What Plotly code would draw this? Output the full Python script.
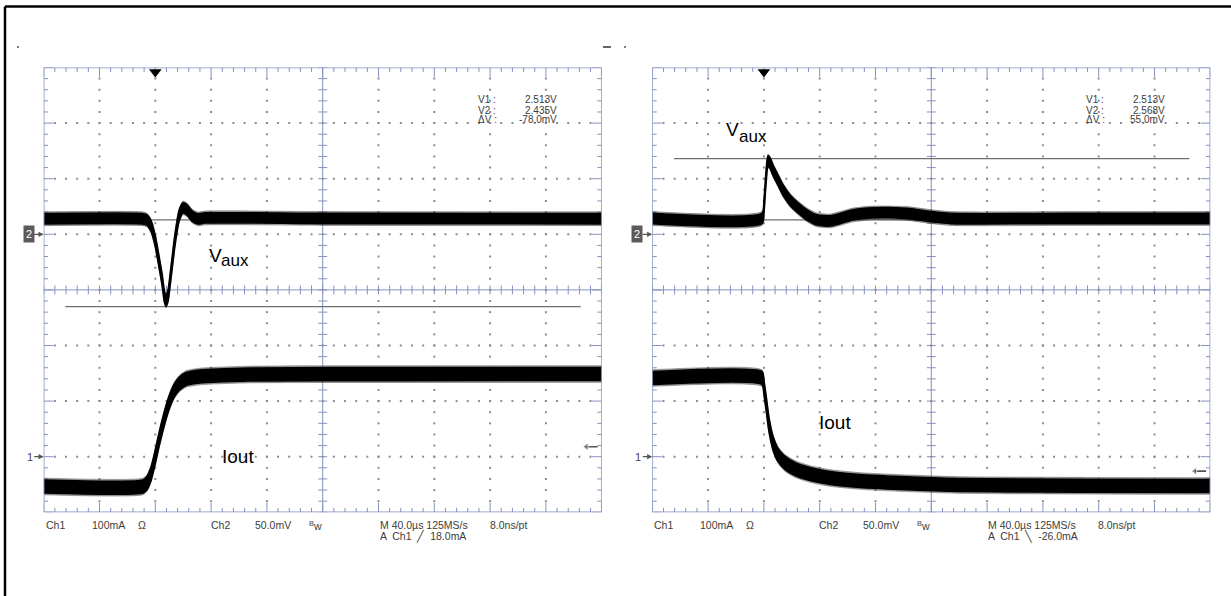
import plotly.graph_objects as go

W, H = 1231, 596

# ---------------- data (time in µs, Ch2 in V, Ch1 in mA) ----------------
# Left capture: load step up
L_vaux_t = [-80, -9.5, -5.9, -3.1, -0.2, 2.7, 4.9, 6.6, 7.7, 9.1, 11.3, 14.1, 17.0, 19.9, 22.8, 26.3, 30.6, 35.6, 120, 320]
L_vaux_v = [2.514, 2.514, 2.5128, 2.5075, 2.4948, 2.4751, 2.4589, 2.4436, 2.4400, 2.4445, 2.4660, 2.4949,
            2.5165, 2.5237, 2.5219, 2.5165, 2.5138, 2.5147, 2.5142, 2.514]
L_iout_t = [-80, -8.8, -5.95, -3.1, -0.2, 2.65, 6.2, 9.8, 13.4, 17.0, 22.0, 32.0, 67.9, 180, 320]
L_iout_i = [-53.6, -53.6, -47.3, -31.1, -2.3, 30.0, 66.0, 96.6, 118.2, 130.8, 139.7, 144.2, 147.8, 148.5, 148.7]

# Right capture: load step down
R_vaux_t = [-80, -1.4, 0.1, 1.5, 2.9, 4.4, 6.5, 10.1, 13.7, 18.7, 23.7, 30.9, 38.1, 47.4, 54.6, 63.9,
            78.3, 102.6, 119.1, 133.5, 220, 320]
R_vaux_v = [2.5142, 2.5142, 2.5263, 2.5506, 2.5659, 2.5641, 2.5578, 2.5488, 2.5398, 2.5308, 2.5246, 2.5174,
            2.5129, 2.5120, 2.5142, 2.5174, 2.5192, 2.5187, 2.5160, 2.5142, 2.5142, 2.5142]
R_iout_t = [-80, -1.4, 0.07, 1.5, 3.7, 6.5, 10.1, 15.1, 22.3, 33.1, 47.4, 68.9, 97.6, 140.6, 230, 320]
R_iout_i = [141.5, 141.5, 123.6, 98.4, 57.0, 24.6, 3.1, -11.2, -22.1, -31.1, -38.3, -43.7, -47.3, -50.9, -52.2, -52.7]

# noise band half-widths
VAUX_NOISE_CORE, VAUX_NOISE_FUZZ = 0.0045, 0.0062   # V
IOUT_NOISE_CORE, IOUT_NOISE_FUZZ = 11.5, 15.0        # mA

# cursors (V) and trigger levels (mA)
L_cursors = [2.513, 2.435]
R_cursors = [2.513, 2.568]
L_trig_level = 18.0
R_trig_level = -26.0
CURSOR_SPAN = [-64.5, 305]

# readouts
L_readout = [("V1 :", "2.513V"), ("V2 :", "2.435V"), ("ΔV :", "-78.0mV")]
R_readout = [("V1 :", "2.513V"), ("V2 :", "2.568V"), ("ΔV :", "55.0mV")]

# status line texts
status_row1 = ["Ch1", "100mA", "Ω", "Ch2", "50.0mV", "<sup>B</sup>w", "M 40.0µs 125MS/s", "8.0ns/pt"]
L_status_row2 = "A  Ch1  ╱  18.0mA"
R_status_row2 = "A  Ch1  ╲  -26.0mA"

# scope settings
TIME_DIV = 40.0      # µs/div
TRIG_DIV = 2.0       # trigger position, divisions from left
CH1_SCALE, CH1_POS = 100.0, -3.0     # mA/div, ground marker position (div)
CH2_SCALE, CH2_OFF, CH2_POS = 0.05, 2.5, 1.0

T0 = -TRIG_DIV * TIME_DIV
T1 = T0 + 10 * TIME_DIV
TC = T0 + 5 * TIME_DIV
ch1_range = [-(4 + CH1_POS) * CH1_SCALE, (4 - CH1_POS) * CH1_SCALE]
ch2_range = [CH2_OFF - (4 + CH2_POS) * CH2_SCALE, CH2_OFF + (4 - CH2_POS) * CH2_SCALE]

# ---------------- layout geometry (pixels) ----------------
GRAT_TOP, GRAT_BOT = 67.5, 512.3
PANELS = [(43.7, 601.7), (652.3, 1210.3)]
FONT = "Liberation Sans, Arial, sans-serif"
GRAT_COL = "#8591c0"
DOT_COL = "#8a8a98"
TXT_COL = "#3c3c3c"


def px(x):
    return x / W


def py(y):
    return 1 - y / H


fig = go.Figure()
shapes = []
annotations = []


def graticule(xa, ya):
    lx, ly = [], []
    for k in range(51):
        t = T0 + k * 0.2 * TIME_DIV
        L = 0.17 if k % 5 == 0 else 0.08
        lx += [t, t, None, t, t, None, t, t, None]
        ly += [4, 4 - L, None, -4, -4 + L, None, -0.08, 0.08, None]
    for k in range(41):
        y = -4 + k * 0.2
        L = (0.17 if k % 5 == 0 else 0.08) * TIME_DIV
        s = 0.08 * TIME_DIV
        lx += [T0, T0 + L, None, T1, T1 - L, None, TC - s, TC + s, None]
        ly += [y, y, None, y, y, None, y, y, None]
    lx += [T0, T1, None, TC, TC]
    ly += [0, 0, None, -4, 4]
    fig.add_trace(go.Scatter(x=lx, y=ly, mode="lines", line=dict(color=GRAT_COL, width=1),
                             xaxis=xa, yaxis=ya, hoverinfo="skip", showlegend=False))
    dx, dy = [], []
    for r in [-3, -2, -1, 1, 2, 3]:
        for k in range(1, 50):
            dx.append(T0 + k * 0.2 * TIME_DIV)
            dy.append(r)
    for c in [1, 2, 3, 4, 6, 7, 8, 9]:
        for k in range(1, 40):
            dx.append(T0 + c * TIME_DIV)
            dy.append(-4 + k * 0.2)
    fig.add_trace(go.Scatter(x=dx, y=dy, mode="markers",
                             marker=dict(color=DOT_COL, size=2, symbol="square", line=dict(width=0)),
                             xaxis=xa, yaxis=ya, hoverinfo="skip", showlegend=False))
    # trigger position marker
    fig.add_trace(go.Scatter(x=[0], y=[3.92], mode="markers", cliponaxis=False,
                             marker=dict(symbol="triangle-down", size=11, color="black"),
                             xaxis=xa, yaxis=ya, hoverinfo="skip", showlegend=False))
    shapes.append(dict(type="rect", xref=xa, yref=ya, x0=T0, x1=T1, y0=-4, y1=4,
                       line=dict(color=GRAT_COL, width=1.5), layer="above"))


def band_pair(t, v, a, fillcolor, lw, lcol, xa, ya):
    lo = [vv - a for vv in v]
    hi = [vv + a for vv in v]
    fig.add_trace(go.Scatter(x=t, y=lo, mode="lines",
                             line=dict(color=lcol, width=lw, shape="spline", smoothing=0.6),
                             xaxis=xa, yaxis=ya, hoverinfo="skip", showlegend=False))
    fig.add_trace(go.Scatter(x=t, y=hi, mode="lines", fill="tonexty", fillcolor=fillcolor,
                             line=dict(color=lcol, width=lw, shape="spline", smoothing=0.6),
                             xaxis=xa, yaxis=ya, hoverinfo="skip", showlegend=False))


def signal(t, v, core, fuzz, xa, ya):
    band_pair(t, v, fuzz, "rgba(40,40,40,0.45)", 0.8, "rgba(60,60,60,0.5)", xa, ya)
    band_pair(t, v, core, "black", 1.8, "black", xa, ya)


def cursors(vals, xa, ya):
    for v in vals:
        fig.add_trace(go.Scatter(x=CURSOR_SPAN, y=[v, v], mode="lines",
                                 line=dict(color="#6f6f6f", width=1.2),
                                 xaxis=xa, yaxis=ya, hoverinfo="skip", showlegend=False))


def trig_arrow(level, xa, ya):
    fig.add_trace(go.Scatter(x=[T1 - 3, T1 - 11], y=[level, level], mode="lines+markers", cliponaxis=False,
                             line=dict(color="#555", width=1.6),
                             marker=dict(symbol=["line-ns", "triangle-left"], size=[0, 7], color="#555"),
                             xaxis=xa, yaxis=ya, hoverinfo="skip", showlegend=False))


panels = [
    dict(x="x", yg="y", y2="y2", y1="y3", vt=L_vaux_t, vv=L_vaux_v, it=L_iout_t, ii=L_iout_i,
         cur=L_cursors, trig=L_trig_level, ro=L_readout, row2=L_status_row2,
         v_lbl=(207, 255), aux_lbl=(219, 261), iout_lbl=(220, 456)),
    dict(x="x2", yg="y4", y2="y5", y1="y6", vt=R_vaux_t, vv=R_vaux_v, it=R_iout_t, ii=R_iout_i,
         cur=R_cursors, trig=R_trig_level, ro=R_readout, row2=R_status_row2,
         v_lbl=(724, 130), aux_lbl=(737, 136), iout_lbl=(817, 423)),
]

for p, (xl, xr) in zip(panels, PANELS):
    graticule(p["x"], p["yg"])
    cursors(p["cur"], p["x"], p["y2"])
    signal(p["vt"], p["vv"], VAUX_NOISE_CORE, VAUX_NOISE_FUZZ, p["x"], p["y2"])
    signal(p["it"], p["ii"], IOUT_NOISE_CORE, IOUT_NOISE_FUZZ, p["x"], p["y1"])
    trig_arrow(p["trig"], p["x"], p["y1"])

    # channel ground markers
    annotations.append(dict(x=T0, y=CH2_OFF, xref=p["x"], yref=p["y2"], text="2", showarrow=True,
                            ax=-15, ay=0, arrowhead=2, arrowsize=0.8, arrowwidth=1.3, arrowcolor="#555",
                            bgcolor="#5b5b5b", borderpad=2, font=dict(color="white", size=11, family=FONT)))
    annotations.append(dict(x=T0, y=0, xref=p["x"], yref=p["y1"], text="1", showarrow=True,
                            ax=-14, ay=0, arrowhead=2, arrowsize=0.8, arrowwidth=1.3, arrowcolor="#555",
                            font=dict(color="#444", size=11, family=FONT)))
    # readouts
    for i, (lab, val) in enumerate(p["ro"]):
        yy = py(100 + i * 10)
        annotations.append(dict(x=px(xl + 432), y=yy, xref="paper", yref="paper", text=lab, showarrow=False,
                                xanchor="left", yanchor="middle", font=dict(size=10, color=TXT_COL, family=FONT)))
        annotations.append(dict(x=px(xl + 515), y=yy, xref="paper", yref="paper", text=val, showarrow=False,
                                xanchor="right", yanchor="middle", font=dict(size=10, color=TXT_COL, family=FONT)))
    # status line
    offs = [0, 46, 92, 165, 209, 263, 334, 444]
    for o, s in zip(offs, status_row1):
        annotations.append(dict(x=px(xl + o), y=py(525), xref="paper", yref="paper", text=s, showarrow=False,
                                xanchor="left", yanchor="middle", font=dict(size=10.5, color=TXT_COL, family=FONT)))
    annotations.append(dict(x=px(xl + 334), y=py(536), xref="paper", yref="paper", text=p["row2"],
                            showarrow=False, xanchor="left", yanchor="middle",
                            font=dict(size=10.5, color=TXT_COL, family=FONT)))
    # signal labels
    vx, vy = p["v_lbl"]
    annotations.append(dict(x=px(vx), y=py(vy), xref="paper", yref="paper", text="V",
                            showarrow=False, xanchor="left", yanchor="middle",
                            font=dict(size=19, color="black", family=FONT)))
    ax_, ay_ = p["aux_lbl"]
    annotations.append(dict(x=px(ax_), y=py(ay_), xref="paper", yref="paper", text="aux",
                            showarrow=False, xanchor="left", yanchor="middle",
                            font=dict(size=17, color="black", family=FONT)))
    ix, iy = p["iout_lbl"]
    annotations.append(dict(x=px(ix), y=py(iy), xref="paper", yref="paper", text="Iout",
                            showarrow=False, xanchor="left", yanchor="middle",
                            font=dict(size=19, color="black", family=FONT)))

# outer frame of the figure (left and top edges visible)
shapes.append(dict(type="line", xref="paper", yref="paper", x0=px(5), x1=px(5), y0=py(6.5), y1=py(610),
                   line=dict(color="black", width=2.5)))
shapes.append(dict(type="line", xref="paper", yref="paper", x0=px(5), x1=px(1240), y0=py(6.5), y1=py(6.5),
                   line=dict(color="black", width=2.5)))
# small screen-capture remnants
for x0, x1 in [(17, 19), (603, 611), (624, 626)]:
    shapes.append(dict(type="line", xref="paper", yref="paper", x0=px(x0), x1=px(x1), y0=py(47), y1=py(47),
                       line=dict(color="black", width=1.2)))

dom_y = [py(GRAT_BOT), py(GRAT_TOP)]
common_x = dict(range=[T0, T1], visible=False, fixedrange=True)
common_y = dict(visible=False, fixedrange=True)
fig.update_layout(
    width=W, height=H, autosize=False, template="none",
    margin=dict(l=0, r=0, t=0, b=0),
    paper_bgcolor="white", plot_bgcolor="rgba(0,0,0,0)",
    showlegend=False,
    xaxis=dict(domain=[px(PANELS[0][0]), px(PANELS[0][1])], anchor="y", **common_x),
    yaxis=dict(domain=dom_y, range=[-4, 4], anchor="x", **common_y),
    yaxis2=dict(overlaying="y", anchor="x", range=ch2_range, **common_y),
    yaxis3=dict(overlaying="y", anchor="x", range=ch1_range, **common_y),
    xaxis2=dict(domain=[px(PANELS[1][0]), px(PANELS[1][1])], anchor="y4", **common_x),
    yaxis4=dict(domain=dom_y, range=[-4, 4], anchor="x2", **common_y),
    yaxis5=dict(overlaying="y4", anchor="x2", range=ch2_range, **common_y),
    yaxis6=dict(overlaying="y4", anchor="x2", range=ch1_range, **common_y),
    shapes=shapes, annotations=annotations,
)

fig.write_html("out.html", config={"displayModeBar": False, "staticPlot": True},
               post_script="document.body.style.margin='0px';document.body.style.overflow='hidden';")
